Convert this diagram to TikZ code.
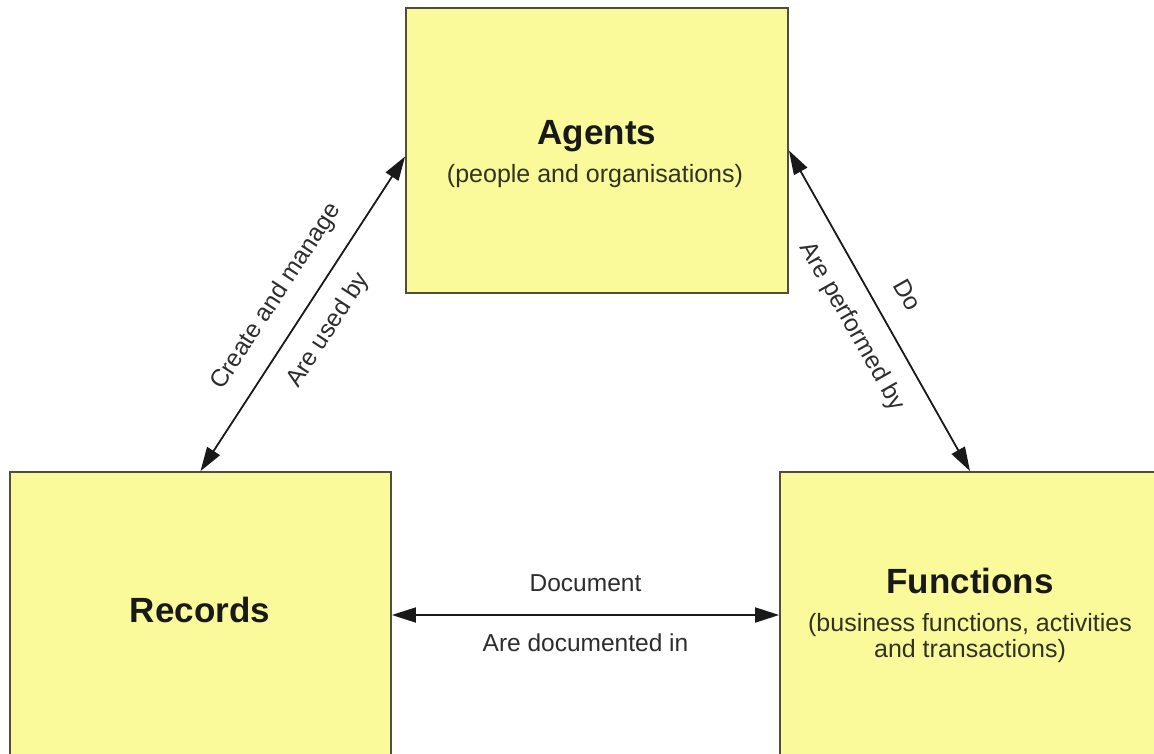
\documentclass[tikz,border=0pt]{standalone}
\usepackage{fontspec}
\setmainfont{Liberation Sans}
\usetikzlibrary{arrows.meta,positioning}
\definecolor{boxyellow}{RGB}{250,250,155}
\definecolor{boxline}{RGB}{78,78,62}
\definecolor{subgrey}{RGB}{50,50,36}
\definecolor{labelgrey}{RGB}{45,45,45}

\begin{document}
\begin{tikzpicture}[x=1pt,y=-1pt,
  entity/.style={draw=boxline,line width=1.8pt,fill=boxyellow,inner sep=0pt},
  title/.style={font=\bfseries\fontsize{35}{40}\selectfont,text=black!90,anchor=base,inner sep=0pt},
  subtitle/.style={font=\fontsize{25}{26}\selectfont,text=subgrey,align=center,inner sep=0pt},
  rel/.style={font=\fontsize{24.5}{26}\selectfont,text=labelgrey,inner sep=0pt,text height=18pt,text depth=5pt},
  link/.style={<->,>={Triangle[length=24pt,width=15pt]},line width=1.8pt,color=black!90}]

\useasboundingbox (0,0) rectangle (1154,754);
\clip (0,0) rectangle (1154,754);

% the three boxes
\node[entity,minimum width=382pt,minimum height=285pt] (agents) at (597,150.5) {};
\node[entity,minimum width=381pt,minimum height=330pt] (records) at (200.5,637) {};
\node[entity,minimum width=392pt,minimum height=330pt] (functions) at (976,637) {};

\node[title] (agents_t) at (597,145) {Agents};
\node[subtitle,anchor=base] (agents_s) at (595,183) {(people and organisations)};
\node[title] (records_t) at (200,622) {Records};
\node[title] (functions_t) at (970,593) {Functions};
\node[subtitle] (functions_s) at (970,638) {(business functions, activities\\and transactions)};

\path[link]
(records.north) edge node[rel,sloped,above=19pt] {Create and manage}
                     node[rel,sloped,below=18pt] {Are used by} ([yshift=-6pt]agents.west)
(agents.east) edge node[rel,sloped,above=18pt] {Do}
                   node[rel,sloped,below=19pt] {Are performed by} ([xshift=-6pt]functions.north)
([yshift=22pt]records.east) edge node[rel,above=18pt] {Document}
                                 node[rel,below=18pt] {Are documented in} ([yshift=22pt]functions.west)
;
\end{tikzpicture}
\end{document}
